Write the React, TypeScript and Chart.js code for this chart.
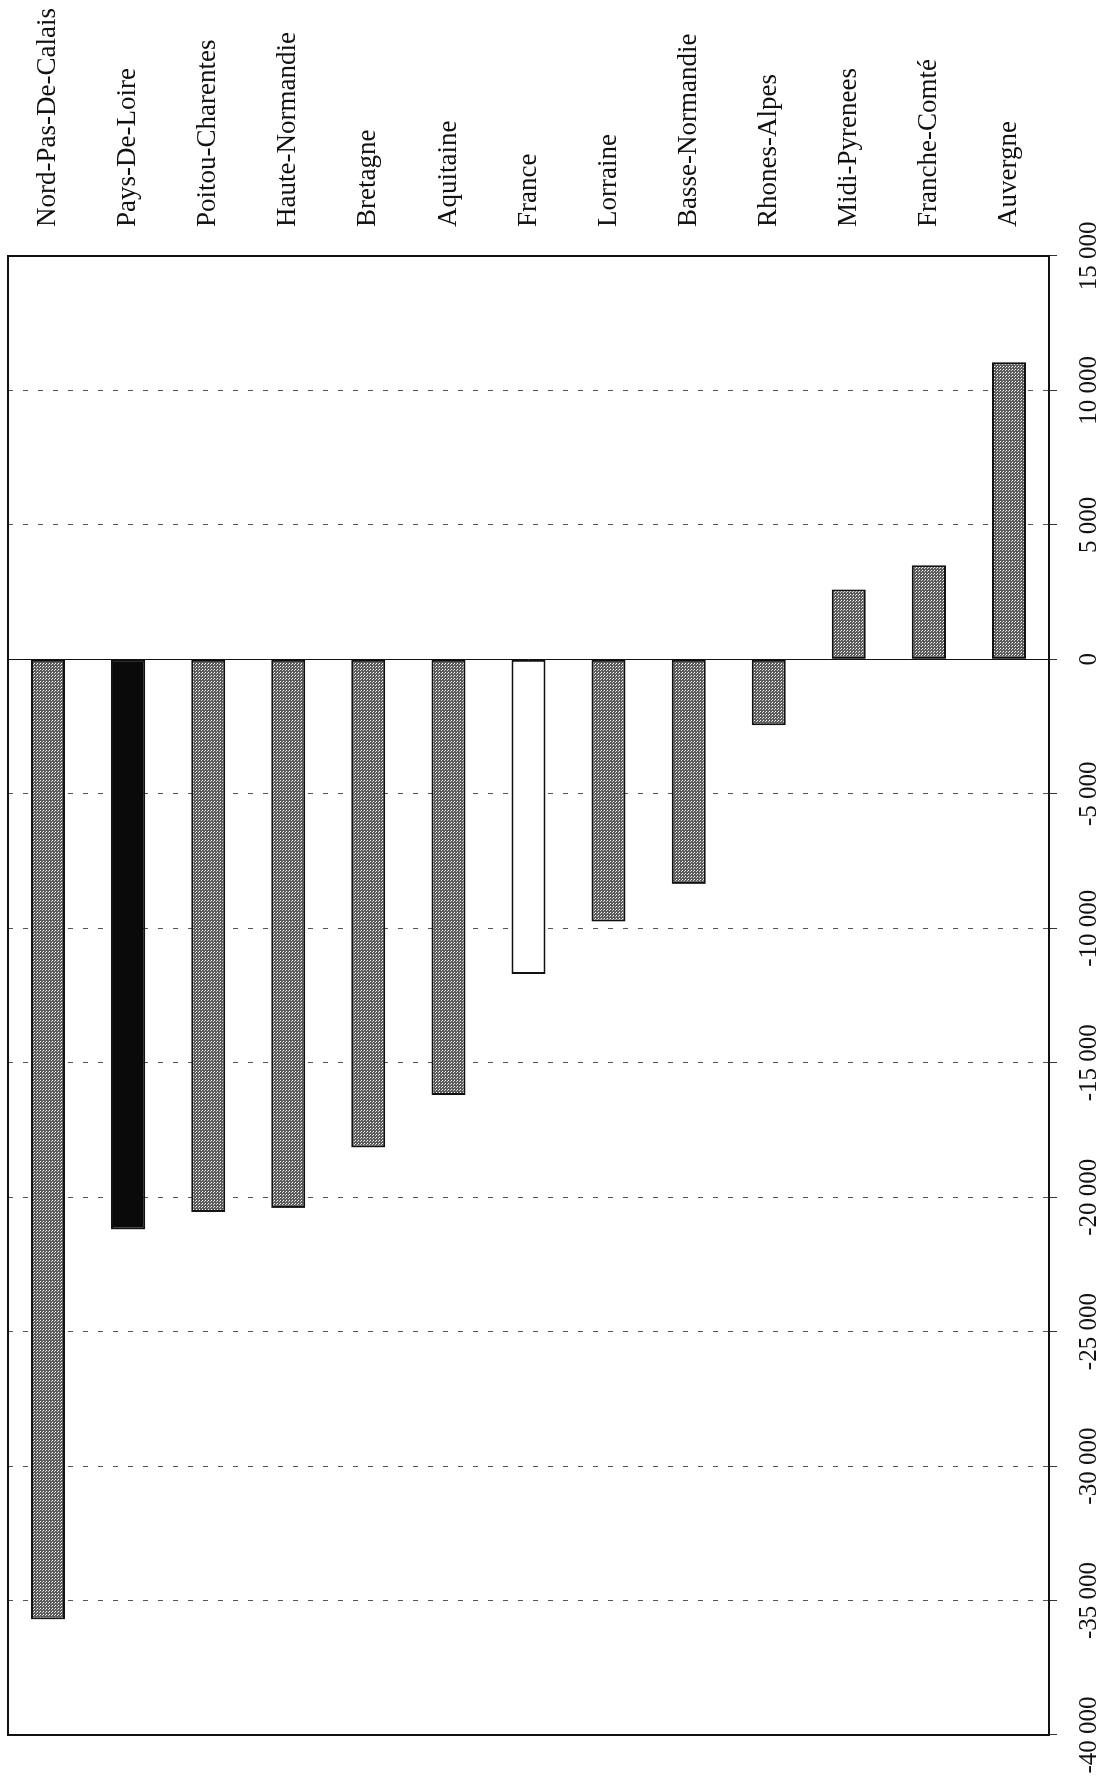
import { useEffect, useRef } from 'react';
import { Chart, registerables } from 'chart.js';

Chart.register(...registerables);

// Categories (left to right in the picture)
const categories: string[] = [
  'Nord-Pas-De-Calais',
  'Pays-De-Loire',
  'Poitou-Charentes',
  'Haute-Normandie',
  'Bretagne',
  'Aquitaine',
  'France',
  'Lorraine',
  'Basse-Normandie',
  'Rhones-Alpes',
  'Midi-Pyrenees',
  'Franche-Comté',
  'Auvergne',
];

// Values
const values: number[] = [
  -35700, -21200, -20550, -20400, -18150, -16200, -11700, -9750, -8350, -2450, 2600, 3500, 11050,
];

// Fill kind per bar
const barKinds: string[] = [
  'pattern', 'black', 'pattern', 'pattern', 'pattern', 'pattern', 'white',
  'pattern', 'pattern', 'pattern', 'pattern', 'pattern', 'pattern',
];

// Value axis
const axisMin = -40000;
const axisMax = 15000;
const axisStep = 5000;

const FONT = "'Liberation Serif', 'Times New Roman', serif";

const formatTick = (v: number) => {
  const s = Math.abs(v).toString().replace(/\B(?=(\d{3})+(?!\d))/g, ' ');
  return (v < 0 ? '-' : '') + s;
};

const zeroPadding = (scale: any) => {
  scale.paddingLeft = 0;
  scale.paddingRight = 0;
  scale.paddingTop = 0;
  scale.paddingBottom = 0;
};

export default function App() {
  const ref = useRef<HTMLCanvasElement>(null);

  useEffect(() => {
    const canvas = ref.current;
    if (!canvas) return;
    const ctx = canvas.getContext('2d')!;

    const tile = document.createElement('canvas');
    tile.width = 3;
    tile.height = 3;
    const t = tile.getContext('2d')!;
    t.fillStyle = '#5c5c5c';
    t.fillRect(0, 0, 3, 3);
    t.fillStyle = '#ffffff';
    t.fillRect(1, 1, 1, 1);
    t.fillStyle = '#cfcfcf';
    t.fillRect(0, 0, 1, 1);
    const pattern = ctx.createPattern(tile, 'repeat')!;

    const fills = barKinds.map((k) => (k === 'black' ? '#0a0a0a' : k === 'white' ? '#ffffff' : pattern));

    const framePlugin = {
      id: 'frame',
      beforeDatasetsDraw(chart: any) {
        const { ctx: c, scales } = chart;
        const x0 = Math.round(scales.x.getPixelForValue(0) - 0.5) + 0.5;
        c.save();
        c.strokeStyle = '#111';
        c.lineWidth = 1;
        c.beginPath();
        c.moveTo(x0, scales.y.top);
        c.lineTo(x0, scales.y.bottom);
        c.stroke();
        c.restore();
      },
      afterDraw(chart: any) {
        const { ctx: c, scales } = chart;
        const l = scales.x.getPixelForValue(axisMin);
        const r = scales.x.getPixelForValue(axisMax);
        const tp = scales.y.top;
        const b = scales.y.bottom;
        c.save();
        c.strokeStyle = '#111';
        c.lineWidth = 2;
        c.strokeRect(l, tp, r - l, b - tp);
        c.restore();
      },
    };

    const chart = new Chart(canvas, {
      type: 'bar',
      data: {
        labels: categories,
        datasets: [
          {
            data: values,
            backgroundColor: fills as any,
            borderColor: '#111',
            borderWidth: 2,
            borderSkipped: false,
            barPercentage: 0.425,
            categoryPercentage: 1,
          },
        ],
      },
      options: {
        indexAxis: 'y',
        responsive: false,
        animation: false,
        devicePixelRatio: 1,
        layout: { padding: { left: 49, top: 8, right: 0, bottom: 0 } },
        plugins: {
          legend: { display: false },
          tooltip: { enabled: false },
          title: { display: false },
        },
        scales: {
          x: {
            type: 'linear',
            position: 'bottom',
            min: axisMin,
            max: axisMax,
            afterFit(scale: any) {
              scale.height = 58;
              zeroPadding(scale);
            },
            ticks: {
              stepSize: axisStep,
              color: '#111',
              padding: 17,
              maxRotation: 0,
              minRotation: 0,
              font: { family: FONT, size: 25 },
              callback: (v: any) => formatTick(Number(v)),
            },
            grid: {
              color: '#555',
              lineWidth: 1,
              drawTicks: true,
              tickLength: 8,
              tickColor: '#333',
              tickBorderDash: [],
            },
            border: { display: false, dash: [5, 10] },
          },
          y: {
            type: 'category',
            position: 'right',
            afterFit(scale: any) {
              scale.width = 256;
              zeroPadding(scale);
            },
            ticks: {
              color: '#111',
              padding: 29,
              font: { family: FONT, size: 27 },
            },
            grid: { display: false, drawTicks: false },
            border: { display: false },
          },
        },
      },
      plugins: [framePlugin],
    });

    return () => chart.destroy();
  }, []);

  return (
    <div
      style={{
        position: 'absolute',
        left: 0,
        top: 0,
        width: 1107,
        height: 1784,
        overflow: 'hidden',
        background: '#ffffff',
      }}
    >
      <canvas
        ref={ref}
        width={1784}
        height={1107}
        style={{
          position: 'absolute',
          left: 0,
          top: 0,
          width: 1784,
          height: 1107,
          transformOrigin: '0 0',
          transform: 'translateY(1784px) rotate(-90deg)',
        }}
      />
    </div>
  );
}
